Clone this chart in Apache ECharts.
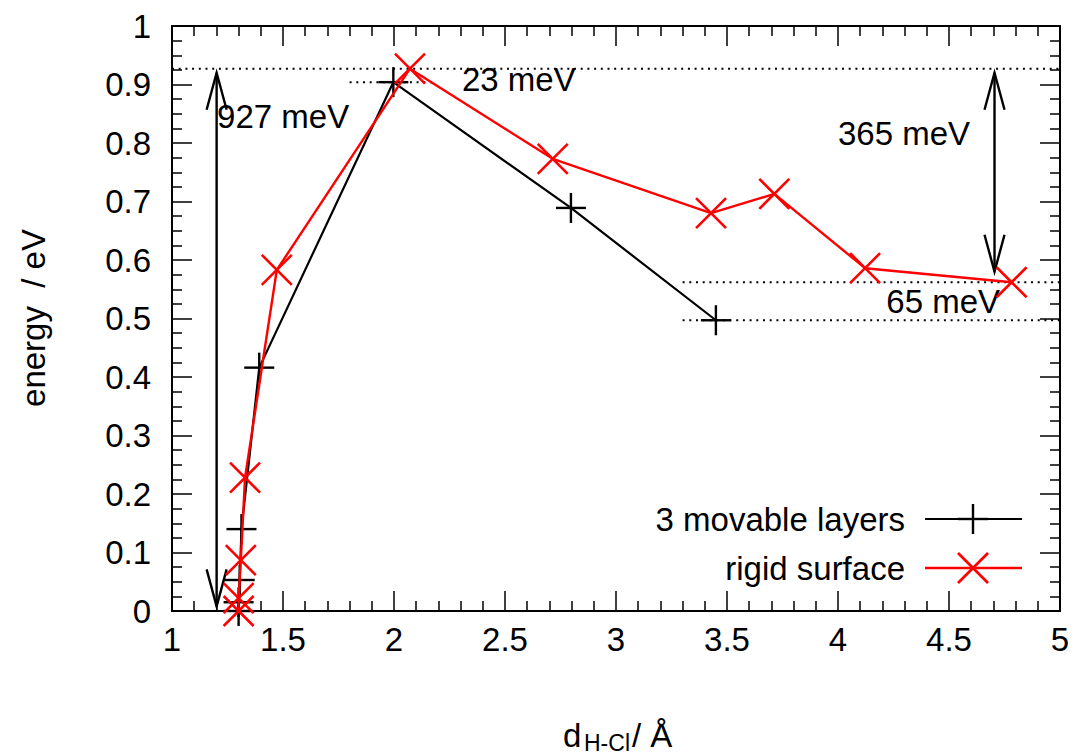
<!DOCTYPE html>
<html><head><meta charset="utf-8">
<script src="https://cdn.jsdelivr.net/npm/echarts@6/dist/echarts.min.js"></script>
<style>html,body{margin:0;padding:0;background:#fff}#c{width:1078px;height:755px}</style>
</head><body><div id="c"></div>
<script>
// ---- data ----
const movableX = [1.300, 1.300, 1.305, 1.313, 1.393, 1.997, 2.797, 3.450];
const movableY = [0.000, 0.015, 0.053, 0.140, 0.416, 0.904, 0.689, 0.497];
const rigidX = [1.300, 1.300, 1.310, 1.329, 1.472, 2.072, 2.715, 3.428, 3.713, 4.122, 4.782];
const rigidY = [0.000, 0.022, 0.087, 0.228, 0.583, 0.927, 0.773, 0.680, 0.713, 0.586, 0.562];
const seriesNames = ['3 movable layers', 'rigid surface'];

const xMin = 1, xMax = 5, xStep = 0.5;
const yMin = 0, yMax = 1, yStep = 0.1;

// dotted reference lines: y level, x start, x end
const dotY    = [0.927, 0.904, 0.562, 0.497];
const dotFrom = [1.00, 1.80, 3.30, 3.30];
const dotTo   = [5.00, 2.18, 5.00, 5.00];

// double arrows: x, top y, bottom y
const arrowX   = [1.201, 4.705];
const arrowTop = [0.920, 0.920];
const arrowBot = [0.008, 0.580];

// annotation texts
const noteText  = ['927 meV', '23 meV', '365 meV', '65 meV'];
const noteX     = [1.203, 2.306, 4.595, 4.730];
const noteY     = [0.846, 0.908, 0.817, 0.529];
const noteAlign = ['left', 'left', 'right', 'right'];

// ---- chart ----
const FONT = "'Liberation Sans', Arial, Helvetica, sans-serif";
const FS = 33;
const chart = echarts.init(document.getElementById('c'), null, {renderer: 'svg'});

const movable = movableX.map((x, i) => [x, movableY[i]]);
const rigid = rigidX.map((x, i) => [x, rigidY[i]]);
const dots = dotY.map((y, i) => [dotFrom[i], dotTo[i], y]);
const arrows = arrowX.map((x, i) => [x, arrowTop[i], arrowBot[i]]);
const notes = noteText.map((t, i) => [noteX[i], noteY[i], i]);

function plusItem(color, s, w) {
  return function (params, api) {
    const p = api.coord([api.value(0), api.value(1)]);
    return {type: 'group', children: [
      {type: 'line', shape: {x1: p[0] - s, y1: p[1], x2: p[0] + s, y2: p[1]}, style: {stroke: color, lineWidth: w}},
      {type: 'line', shape: {x1: p[0], y1: p[1] - s, x2: p[0], y2: p[1] + s}, style: {stroke: color, lineWidth: w}}
    ]};
  };
}
function crossItem(color, s, w) {
  return function (params, api) {
    const p = api.coord([api.value(0), api.value(1)]);
    return {type: 'group', children: [
      {type: 'line', shape: {x1: p[0] - s, y1: p[1] - s, x2: p[0] + s, y2: p[1] + s}, style: {stroke: color, lineWidth: w}},
      {type: 'line', shape: {x1: p[0] - s, y1: p[1] + s, x2: p[0] + s, y2: p[1] - s}, style: {stroke: color, lineWidth: w}}
    ]};
  };
}

function xAxisDef(pos, labels) {
  return {
    type: 'value', position: pos, min: xMin, max: xMax, interval: xStep,
    axisLine: {show: true, onZero: false, lineStyle: {color: '#000', width: 2}},
    axisTick: {show: true, inside: true, length: 20, lineStyle: {color: '#000', width: 1.5}},
    minorTick: {show: true, splitNumber: 5, length: 10, lineStyle: {color: '#000', width: 1.5}},
    splitLine: {show: false}, minorSplitLine: {show: false},
    axisLabel: {show: labels, margin: 12, color: '#000', fontSize: FS, fontFamily: FONT,
      showMinLabel: true, showMaxLabel: true}
  };
}
function yAxisDef(pos, labels) {
  return {
    type: 'value', position: pos, min: yMin, max: yMax, interval: yStep,
    axisLine: {show: true, onZero: false, lineStyle: {color: '#000', width: 2}},
    axisTick: {show: true, inside: true, length: 20, lineStyle: {color: '#000', width: 1.5}},
    minorTick: {show: true, splitNumber: 4, length: 10, lineStyle: {color: '#000', width: 1.5}},
    splitLine: {show: false}, minorSplitLine: {show: false},
    axisLabel: {show: labels, margin: 21, color: '#000', fontSize: FS, fontFamily: FONT,
      showMinLabel: true, showMaxLabel: true}
  };
}

const option = {
  animation: false,
  backgroundColor: '#fff',
  grid: {left: 172, right: 18, top: 26, bottom: 144, containLabel: false},
  xAxis: [xAxisDef('bottom', true), xAxisDef('top', false)],
  yAxis: [yAxisDef('left', true), yAxisDef('right', false)],
  series: [
    { // dotted reference lines
      type: 'custom', xAxisIndex: 0, yAxisIndex: 0, data: dots, z: 1, silent: true,
      renderItem: function (params, api) {
        const a = api.coord([api.value(0), api.value(2)]);
        const b = api.coord([api.value(1), api.value(2)]);
        return {type: 'line', shape: {x1: a[0], y1: a[1], x2: b[0], y2: b[1]},
          style: {stroke: '#000', lineWidth: 2, lineDash: [2, 4.7]}};
      }
    },
    { // double-headed arrows
      type: 'custom', xAxisIndex: 0, yAxisIndex: 0, data: arrows, z: 2, silent: true,
      renderItem: function (params, api) {
        const t = api.coord([api.value(0), api.value(1)]);
        const b = api.coord([api.value(0), api.value(2)]);
        const hw = 10, hl = 37, st = {stroke: '#000', lineWidth: 2.4, fill: null};
        return {type: 'group', children: [
          {type: 'line', shape: {x1: t[0], y1: t[1], x2: b[0], y2: b[1]}, style: st},
          {type: 'polyline', shape: {points: [[t[0] - hw, t[1] + hl], [t[0], t[1]], [t[0] + hw, t[1] + hl]]}, style: st},
          {type: 'polyline', shape: {points: [[b[0] - hw, b[1] - hl], [b[0], b[1]], [b[0] + hw, b[1] - hl]]}, style: st}
        ]};
      }
    },
    { // annotation texts
      type: 'custom', xAxisIndex: 0, yAxisIndex: 0, data: notes, z: 3, silent: true,
      renderItem: function (params, api) {
        const p = api.coord([api.value(0), api.value(1)]);
        const i = api.value(2);
        return {type: 'text', x: p[0], y: p[1],
          style: {text: noteText[i], fill: '#000', fontSize: FS, fontFamily: FONT,
            align: noteAlign[i], verticalAlign: 'middle'}};
      }
    },
    {
      name: seriesNames[0], type: 'line', data: movable, symbol: 'none', z: 4,
      lineStyle: {color: '#000', width: 2.2}
    },
    {
      name: seriesNames[0], type: 'custom', data: movable, z: 5, silent: true,
      renderItem: plusItem('#000', 15, 2.4)
    },
    {
      name: seriesNames[1], type: 'line', data: rigid, symbol: 'none', z: 6,
      lineStyle: {color: '#ff0000', width: 2.4}
    },
    {
      name: seriesNames[1], type: 'custom', data: rigid, z: 7, silent: true,
      renderItem: crossItem('#ff0000', 15, 2.6)
    }
  ],
  graphic: [
    // y-axis title
    {type: 'text', x: 33, y: 318, rotation: Math.PI / 2,
      style: {text: 'energy\u00a0\u00a0/ eV', fill: '#000', fontSize: FS, fontFamily: FONT,
        align: 'center', verticalAlign: 'middle'}},
    // x-axis title d_{H-Cl}/ Å
    {type: 'text', x: 563, y: 735,
      style: {text: 'd', fill: '#000', fontSize: FS, fontFamily: FONT, align: 'left', verticalAlign: 'middle'}},
    {type: 'text', x: 584, y: 743,
      style: {text: 'H-Cl', fill: '#000', fontSize: 23, fontFamily: FONT, align: 'left', verticalAlign: 'middle'}},
    {type: 'text', x: 632, y: 735,
      style: {text: '/ Å', fill: '#000', fontSize: FS, fontFamily: FONT, align: 'left', verticalAlign: 'middle'}},
    // legend
    {type: 'text', x: 905, y: 519,
      style: {text: seriesNames[0], fill: '#000', fontSize: FS, fontFamily: FONT, align: 'right', verticalAlign: 'middle'}},
    {type: 'line', shape: {x1: 925, y1: 519, x2: 1022, y2: 519}, style: {stroke: '#000', lineWidth: 2.2}},
    {type: 'line', shape: {x1: 958, y1: 519, x2: 988, y2: 519}, style: {stroke: '#000', lineWidth: 2.4}},
    {type: 'line', shape: {x1: 973, y1: 504, x2: 973, y2: 534}, style: {stroke: '#000', lineWidth: 2.4}},
    {type: 'text', x: 905, y: 568,
      style: {text: seriesNames[1], fill: '#000', fontSize: FS, fontFamily: FONT, align: 'right', verticalAlign: 'middle'}},
    {type: 'line', shape: {x1: 925, y1: 568, x2: 1022, y2: 568}, style: {stroke: '#ff0000', lineWidth: 2.4}},
    {type: 'line', shape: {x1: 958, y1: 553, x2: 988, y2: 583}, style: {stroke: '#ff0000', lineWidth: 2.6}},
    {type: 'line', shape: {x1: 958, y1: 583, x2: 988, y2: 553}, style: {stroke: '#ff0000', lineWidth: 2.6}}
  ]
};
chart.setOption(option);
</script>
</body></html>
